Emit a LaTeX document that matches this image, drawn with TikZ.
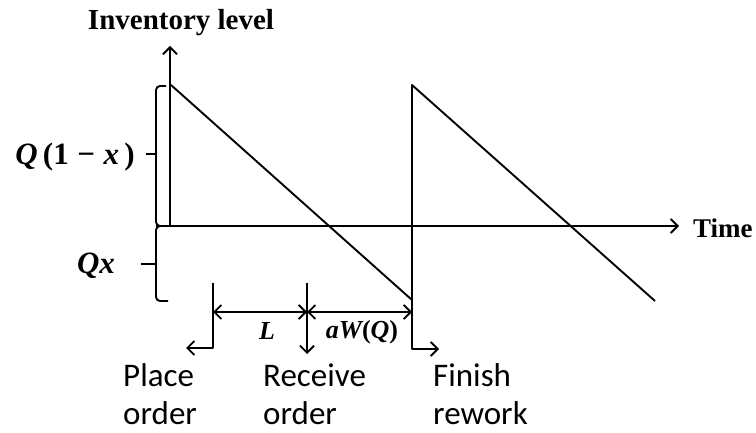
\documentclass[tikz,border=0pt]{standalone}
\usepackage{fontspec}
\setmainfont{Liberation Serif}
\newfontfamily\lblfont{Carlito}
\usetikzlibrary{arrows.meta}
\tikzset{
  ln/.style={line width=1.9pt, line join=round},
  arr/.style={ln, -{Straight Barb[length=7pt,width=14pt,line width=1.9pt]}},
  dimarr/.style={ln, {Straight Barb[length=7pt,width=14pt,line width=1.9pt]}-{Straight Barb[length=7pt,width=14pt,line width=1.9pt]}},
  axlabel/.style={font=\fontsize{29}{32}\selectfont\bfseries, inner sep=0pt},
  timelabel/.style={font=\fontsize{27}{30}\selectfont\bfseries, inner sep=0pt},
  qlabel/.style={font=\fontsize{31}{34}\selectfont\bfseries, inner sep=0pt},
  dimlabel/.style={font=\fontsize{26}{30}\selectfont\bfseries, inner sep=0pt},
  evlabel/.style={font=\lblfont\fontsize{33}{38}\selectfont, inner sep=0pt, anchor=base west}
}
\begin{document}
\begin{tikzpicture}[x=1pt,y=-1pt]
\useasboundingbox (0,0) rectangle (756,433);
% coordinates
\coordinate (o) at (170,226);
\coordinate (ytop) at (170,46);
\coordinate (xl) at (156,226);
\coordinate (xr) at (679,226);
\coordinate (p1) at (171,85);
\coordinate (b1) at (412,300);
\coordinate (p2) at (412,85);
\coordinate (b2) at (655,301);
\coordinate (fr) at (412,349);
\coordinate (fre) at (439,349);
\coordinate (pt) at (213,283);
\coordinate (pb) at (213,348);
\coordinate (pe) at (186,348);
\coordinate (rt) at (307,283);
\coordinate (rb) at (307,354);
\coordinate (dl) at (213,312);
\coordinate (dm) at (307,312);
\coordinate (dr) at (412,312);
% axes
\draw[arr] (o) -- (ytop);
\draw[arr] (xl) -- (xr);
% sawtooth
\draw[ln] (p1) -- (b1) -- (p2) -- (b2);
\draw[arr] (b1) -- (fr) -- (fre);
% brackets
\draw[ln, rounded corners=4pt] (166,86) -- (156,86) -- (156,226) -- (162,226);
\draw[ln] (156,154) -- (146,154);
\draw[ln, rounded corners=4pt] (162,226) -- (156,226) -- (156,301) -- (168,301);
\draw[ln] (156,264) -- (141,264);
% event arrows
\draw[arr] (pt) -- (pb) -- (pe);
\draw[arr] (rt) -- (rb);
\draw[dimarr] (dl) -- (dm);
\draw[dimarr] (dm) -- (dr);
% labels
\node[axlabel] (title) at (181,23) {Inventory level};
\node[timelabel, anchor=west] (time) at (693,228) {Time};
\node[qlabel] (q1x) at (75,157) {\itshape Q\,\upshape(1\;−\;\itshape x\upshape\,)};
\node[qlabel] (qx) at (96,266) {\itshape Qx};
\node[dimlabel] (L) at (267,331) {\itshape L};
\node[dimlabel] (aw) at (362,332) {\itshape aW\upshape(\itshape Q\upshape)};
\node[evlabel] (place1) at (123,386) {Place};
\node[evlabel] (place2) at (123,424) {order};
\node[evlabel] (rec1) at (263,386) {Receive};
\node[evlabel] (rec2) at (263,424) {order};
\node[evlabel] (fin1) at (433,386) {Finish};
\node[evlabel] (fin2) at (433,424) {rework};
\end{tikzpicture}
\end{document}
